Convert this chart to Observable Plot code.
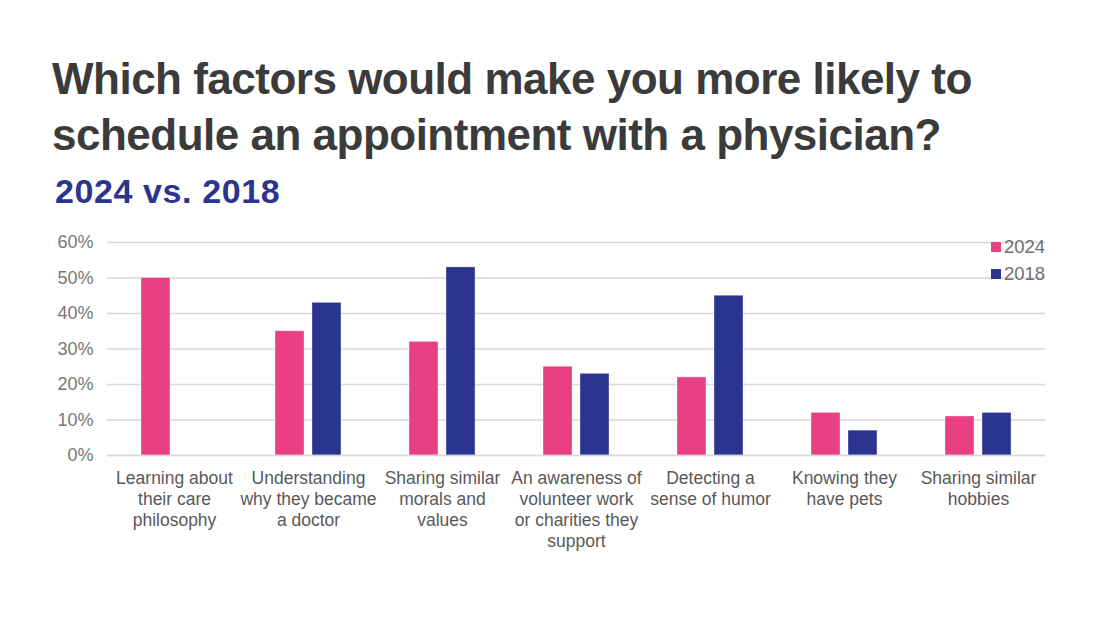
<!DOCTYPE html>
<html>
<head>
<meta charset="utf-8">
<script src="https://cdn.jsdelivr.net/npm/d3@7"></script>
<script src="https://cdn.jsdelivr.net/npm/@observablehq/plot@0.6"></script>
<style>
  html, body { margin: 0; padding: 0; background: #fff; }
  #wrap { position: relative; width: 1100px; height: 619px; overflow: hidden; }
  #title { position: absolute; left: 52px; top: 51px; font-family: "Liberation Sans", Arial, sans-serif; font-weight: bold; font-size: 44px; line-height: 56px; color: #3b3b3b; margin: 0; letter-spacing: -0.5px; }
  #subtitle { position: absolute; left: 55px; top: 172px; font-family: "Liberation Sans", Arial, sans-serif; font-weight: bold; font-size: 34px; color: #2b3590; margin: 0; letter-spacing: 0.6px; }
  #chart { position: absolute; left: 0; top: 225px; }
  #legend { position: absolute; left: 991px; top: 236px; font-family: "Liberation Sans Narrow", "Liberation Sans", sans-serif; font-size: 18.5px; color: #6f6f6f; }
  #legend div { height: 27px; line-height: 22px; white-space: nowrap; }
  #legend span.sw { display: inline-block; width: 10px; height: 10px; margin-right: 3px; vertical-align: 1px; }
</style>
</head>
<body>
<div id="wrap">
  <div id="title">Which factors would make you more likely to<br>schedule an appointment with a physician?</div>
  <div id="subtitle">2024 vs. 2018</div>
  <div id="chart"></div>
  <div id="legend"></div>
</div>
<script>
const categories = [
  "Learning about\ntheir care\nphilosophy",
  "Understanding\nwhy they became\na doctor",
  "Sharing similar\nmorals and\nvalues",
  "An awareness of\nvolunteer work\nor charities they\nsupport",
  "Detecting a\nsense of humor",
  "Knowing they\nhave pets",
  "Sharing similar\nhobbies"
];
const years = ["2024", "2018"];
const values2024 = [50, 35, 32, 25, 22, 12, 11];
const values2018 = [null, 43, 53, 23, 45, 7, 12];
const colors = ["#e84083", "#2b3590"];
const yTicks = [0, 10, 20, 30, 40, 50, 60];

const data = [];
categories.forEach((c, i) => {
  if (values2024[i] != null) data.push({category: c, year: "2024", value: values2024[i]});
  if (values2018[i] != null) data.push({category: c, year: "2018", value: values2018[i]});
});

const chart = Plot.plot({
  width: 1100,
  height: 394,
  marginTop: 17,
  marginBottom: 164,
  marginLeft: 106,
  marginRight: 54,
  style: { fontFamily: '"Liberation Sans Narrow", "Liberation Sans", sans-serif', background: "transparent" },
  fx: { domain: categories, padding: 0, label: null },
  x: { domain: years, paddingInner: 0.21, paddingOuter: 0.87, axis: null },
  y: { domain: [0, 60], label: null },
  color: { domain: years, range: colors },
  marks: [
    Plot.gridY(yTicks, { stroke: "#d9d9d9", strokeOpacity: 1, strokeWidth: 1.5 }),
    Plot.axisY(yTicks, { tickSize: 0, tickPadding: 14, tickFormat: d => d + "%", fontSize: 18, fill: "#777", label: null,
      fontFamily: '"Liberation Sans Narrow", "Liberation Sans", sans-serif' }),
    Plot.barY(data, { fx: "category", x: "year", y: "value", fill: "year", stroke: "#fff", strokeOpacity: 0.35, strokeWidth: 1 }),
    Plot.axisFx({ anchor: "bottom", tickSize: 0, tickPadding: 14, fontSize: 17.5, lineHeight: 1.2, fill: "#595959", label: null }),
    Plot.ruleY([0], { stroke: "#d9d9d9", strokeWidth: 1.5 })
  ]
});
document.getElementById("chart").appendChild(chart);

const legend = document.getElementById("legend");
years.forEach((y, i) => {
  const row = document.createElement("div");
  const sw = document.createElement("span");
  sw.className = "sw";
  sw.style.background = colors[i];
  row.appendChild(sw);
  row.appendChild(document.createTextNode(y));
  legend.appendChild(row);
});
</script>
</body>
</html>
